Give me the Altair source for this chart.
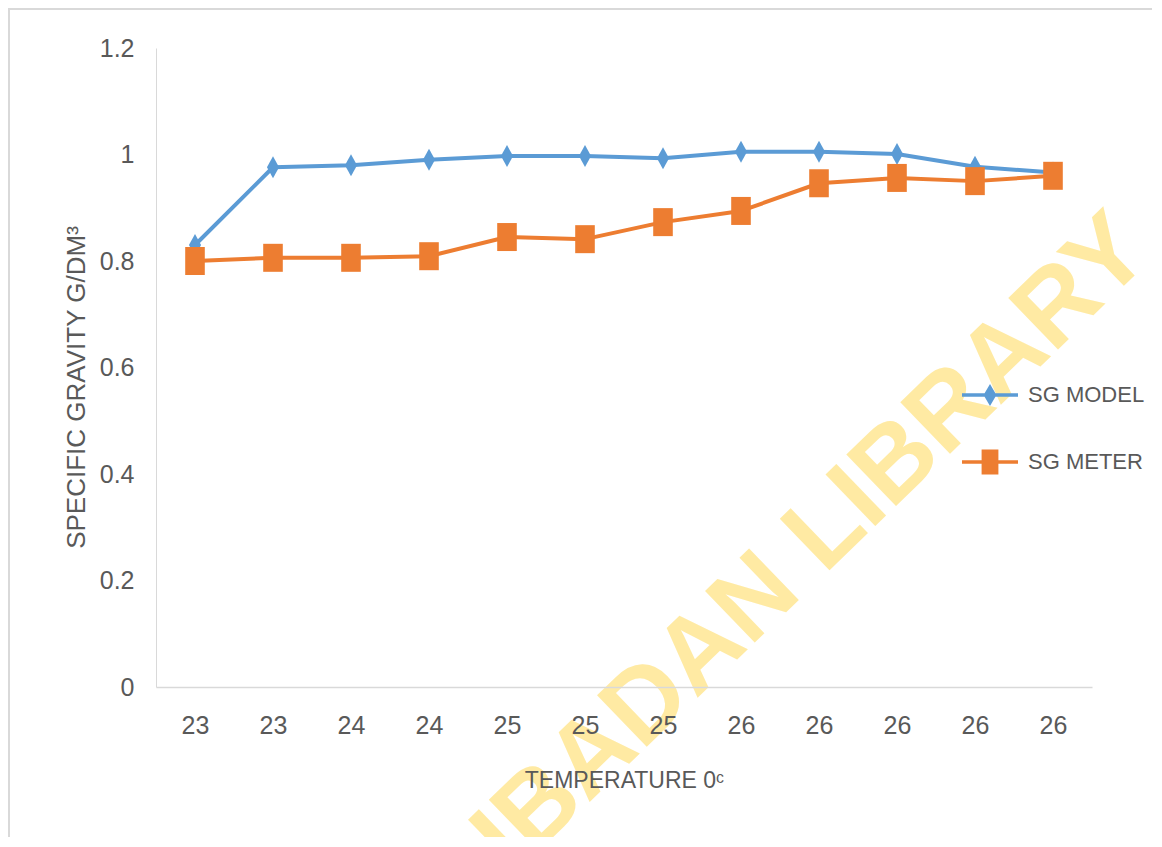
import altair as alt
import pandas as pd

# ---- data ----
temp_labels = ["23", "23", "24", "24", "25", "25", "25", "26", "26", "26", "26", "26"]
sg_model = [0.830, 0.976, 0.980, 0.990, 0.997, 0.997, 0.993, 1.005, 1.005, 1.001, 0.977, 0.966]
sg_meter = [0.800, 0.806, 0.806, 0.809, 0.845, 0.841, 0.873, 0.894, 0.946, 0.956, 0.950, 0.960]
series_names = ["SG MODEL", "SG METER"]
series_colors = ["#5B9BD5", "#ED7D31"]
y_ticks = [0, 0.2, 0.4, 0.6, 0.8, 1.0, 1.2]
watermark_text = ["IBADAN LIBRARY"]

rows = []
for i, v in enumerate(sg_model):
    rows.append({"pos": i, "series": series_names[0], "value": v})
for i, v in enumerate(sg_meter):
    rows.append({"pos": i, "series": series_names[1], "value": v})
df = pd.DataFrame(rows)

label_expr = "[" + ",".join("'%s'" % t for t in temp_labels) + "][datum.value]"

FONT = "Liberation Sans Narrow, Liberation Sans, Arial, sans-serif"
GREY = "#595959"

x_enc = alt.X(
    "pos:O",
    title="TEMPERATURE 0ᶜ",
    axis=alt.Axis(
        labelExpr=label_expr,
        labelAngle=0,
        labelFont=FONT,
        labelFontSize=25,
        labelColor=GREY,
        labelPadding=26,
        ticks=False,
        domainColor="#D9D9D9",
        domainWidth=1.5,
        titleFont=FONT,
        titleFontSize=23,
        titleFontWeight="normal",
        titleColor=GREY,
        titlePadding=31,
        zindex=1,
    ),
)
y_enc = alt.Y(
    "value:Q",
    title="SPECIFIC GRAVITY G/DM³",
    scale=alt.Scale(domain=[0, 1.2], nice=False, zero=True),
    axis=alt.Axis(
        values=y_ticks,
        format=".1~f",
        labelFont=FONT,
        labelFontSize=25,
        labelColor=GREY,
        labelPadding=22,
        ticks=False,
        grid=False,
        domainColor="#D9D9D9",
        domainWidth=1,
        titleFont="Liberation Sans, Arial, sans-serif",
        titleFontSize=26,
        titleFontWeight="normal",
        titleColor=GREY,
        titlePadding=10,
        titleY=339,
        zindex=1,
    ),
)

# watermark (decoration)
wm = alt.Chart(pd.DataFrame({"t": watermark_text})).mark_text(
    angle=316,
    fontSize=104,
    font="Liberation Sans, Arial, sans-serif",
    fontWeight="bold",
    color="#FFEAA3",
    align="center",
    baseline="middle",
).encode(text="t:N", x=alt.value(656), y=alt.value(496))

frame = alt.Chart(pd.DataFrame({"t": [0]})).mark_rect(
    fill=None, stroke="#D9D9D9", strokeWidth=2
).encode(x=alt.value(-147), x2=alt.value(1200), y=alt.value(-39), y2=alt.value(900))

diamond_path = "M0,-1L0.55,0L0,1L-0.55,0Z"
square_path = "M-0.7,-1L0.7,-1L0.7,1L-0.7,1Z"
marker_paths = [diamond_path, square_path]
marker_sizes = [484, 784]

layers = [wm, frame]
for name, col, shp, sz in zip(series_names, series_colors, marker_paths, marker_sizes):
    sub = alt.Chart(df).transform_filter(alt.datum.series == name)
    layers.append(
        sub.mark_line(strokeWidth=4, strokeCap="round", strokeJoin="round", color=col)
        .encode(x=x_enc, y=y_enc)
    )
for name, col, shp, sz in zip(series_names, series_colors, marker_paths, marker_sizes):
    sub = alt.Chart(df).transform_filter(alt.datum.series == name)
    layers.append(
        sub.mark_point(filled=True, opacity=1, shape=shp, size=sz, color=col)
        .encode(x=x_enc, y=y_enc)
    )

legend_model_path = "M-1,-0.06L1,-0.06L1,0.06L-1,0.06Z M0,-0.39L0.23,0L0,0.39L-0.23,0Z"
legend_meter_path = "M-1,-0.06L1,-0.06L1,0.06L-1,0.06Z M-0.3,-0.45L0.3,-0.45L0.3,0.45L-0.3,0.45Z"

legend_layer = alt.Chart(df).transform_filter("false").mark_point(
    filled=True, size=3136
).encode(
    x=x_enc,
    y=y_enc,
    color=alt.Color(
        "series:N",
        scale=alt.Scale(domain=series_names, range=series_colors),
        legend=alt.Legend(title=None),
    ),
    shape=alt.Shape(
        "series:N",
        scale=alt.Scale(domain=series_names, range=[legend_model_path, legend_meter_path]),
        legend=alt.Legend(title=None),
    ),
)
layers.append(legend_layer)

chart = (
    alt.layer(*layers)
    .properties(
        width=936,
        height=639,
        autosize=alt.AutoSizeParams(type="none"),
        padding={"left": 148, "top": 40, "right": 60, "bottom": 150},
    )
    .configure_view(stroke=None)
    .configure_legend(
        orient="none",
        legendX=806,
        legendY=319,
        symbolSize=3136,
        symbolStrokeWidth=0,
        symbolOpacity=1,
        labelFont=FONT,
        labelFontSize=22,
        labelColor=GREY,
        labelOffset=10,
        rowPadding=28,
        padding=0,
    )
)

chart.save("out.html", embed_options={"renderer": "svg", "actions": False})
